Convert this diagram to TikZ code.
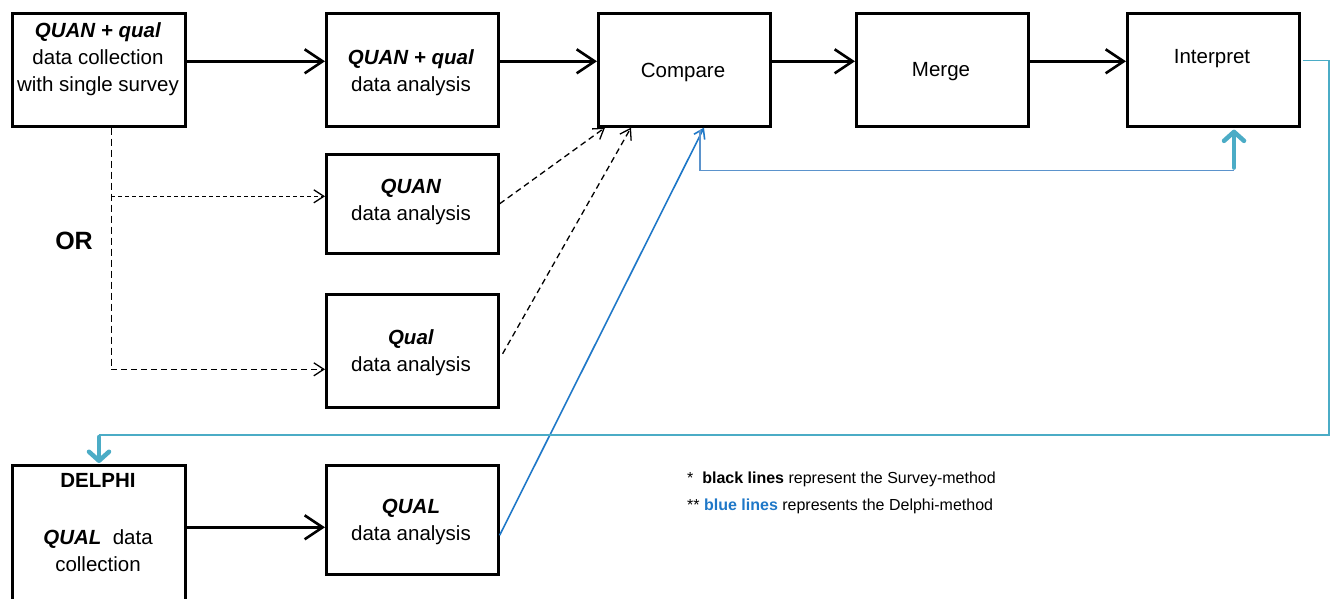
\documentclass[tikz,border=0pt]{standalone}
\usepackage{fontspec}
\setmainfont{Liberation Sans}
\usetikzlibrary{arrows.meta}
\definecolor{delphiblue}{HTML}{1F78C8}
\definecolor{loopblue}{HTML}{5B93CC}
\definecolor{accentteal}{HTML}{4BACC6}

\begin{document}
\begin{tikzpicture}[x=1pt,y=-1pt,
  box/.style={draw, line width=2.6pt, anchor=north west, inner sep=0pt, minimum width=172pt},
  lbl/.style={align=center, font=\fontsize{20.5}{27}\selectfont, inner sep=0pt},
  note/.style={anchor=west, font=\fontsize{16}{19}\selectfont, inner sep=0pt},
  flow/.style={line width=2.8pt, -{Straight Barb[length=18pt,width=24pt,line width=2.6pt]}},
  alt/.style={line width=1.3pt, dash pattern=on 6pt off 4pt, -{Straight Barb[length=10pt,width=13pt,line width=1.3pt]}},
  altline/.style={line width=1.3pt, dash pattern=on 7pt off 4pt},
  delphi/.style={delphiblue, line width=1.6pt, -{Straight Barb[length=9pt,width=12pt,line width=1.6pt]}},
  loopline/.style={loopblue, line width=1.3pt},
  tealline/.style={accentteal, line width=1.4pt},
  tealarrow/.style={accentteal, line width=4.5pt, line cap=round, -{Straight Barb[length=9pt,width=20pt,line width=4.5pt,round]}}]

\useasboundingbox[fill=white] (0,0) rectangle (1333,598);

% boxes
\node[box, minimum width=173pt, minimum height=113pt] (coll) at (11,12) {};
\node[box, minimum height=113pt] (mixan) at (325,12) {};
\node[box, minimum height=113pt] (cmp) at (597,12) {};
\node[box, minimum height=113pt] (mrg) at (855,12) {};
\node[box, minimum height=113pt] (intp) at (1126,12) {};
\node[box, minimum height=99pt] (quan) at (325,153) {};
\node[box, minimum height=113pt] (qual) at (325,293) {};
\node[box, minimum width=173pt, minimum height=170pt] (dlph) at (11,464) {};
\node[box, minimum height=109pt] (qualan) at (325,464) {};

% box texts
\node[lbl] (collT) at (98,59.5) {\textbf{\textit{QUAN + qual}}\\data collection\\with single survey};
\node[lbl] (mixanT) at (411,73) {\textbf{\textit{QUAN + qual}}\\data analysis};
\node[lbl] (cmpT) at (683,72) {Compare};
\node[lbl] (mrgT) at (941,72) {Merge};
\node[lbl] (intpT) at (1212,59) {Interpret};
\node[lbl] (quanT) at (411,202) {\textbf{\textit{QUAN}}\\data analysis};
\node[lbl] (qualT) at (411,353) {\textbf{\textit{Qual}}\\data analysis};
\node[lbl] (dlphT) at (98,522.5) {\textbf{DELPHI}\\[30pt]\textbf{\textit{QUAL}}\ \ data\\collection};
\node[lbl] (qualanT) at (411,522) {\textbf{\textit{QUAL}}\\data analysis};
\node[lbl, font=\fontsize{25}{29}\selectfont\bfseries] (or) at (74,241) {OR};

% legend
\node[note] (note1) at (687,479) {*\ \ \textbf{black lines} represent the Survey-method};
\node[note] (note2) at (687,506) {** \textcolor{delphiblue}{\textbf{blue lines}} represents the Delphi-method};

% survey main flow
\draw[flow] ([yshift=8.5pt]coll.east) -- ([yshift=8.5pt]mixan.west);
\draw[flow] ([yshift=8.5pt]mixan.east) -- ([yshift=8.5pt]cmp.west);
\draw[flow] ([yshift=8.5pt]cmp.east) -- ([yshift=8.5pt]mrg.west);
\draw[flow] ([yshift=8.5pt]mrg.east) -- ([yshift=8.5pt]intp.west);

% alternative split analysis
\coordinate (split) at ([xshift=12.5pt]coll.south);
\coordinate (quanin) at ([yshift=7.5pt]quan.west);
\coordinate (qualin) at ([yshift=-18.5pt]qual.west);
\draw[altline] (split) -- (split |- qualin);
\draw[alt] (split |- qualin) -- (qualin);
\draw[alt, dash pattern=on 4pt off 3pt] (split |- quanin) -- (quanin);
\draw[alt] (quan.east) -- ([xshift=8pt]cmp.south west);
\draw[alt] ([xshift=3pt,yshift=-3pt]qual.east) -- ([xshift=34pt]cmp.south west);

% delphi flow
\coordinate (qain) at ([yshift=-7.5pt]qualan.west);
\draw[flow] (dlph.east |- qain) -- (qain);
\draw[delphi] ([yshift=-15.5pt]qualan.east) -- ([xshift=107pt]cmp.south west);

% feedback loop compare -> interpret
\coordinate (cmpfoot) at ([xshift=103pt,yshift=-2pt]cmp.south west);
\coordinate (intfoot) at ([xshift=108pt]intp.south west);
\coordinate (loopbase) at ([yshift=-43pt]intfoot);
\draw[loopline] (cmpfoot) |- (loopbase);
\draw[tealarrow] ([yshift=3pt]loopbase) -- ([yshift=-2pt]intfoot);

% return loop interpret -> delphi
\coordinate (retR) at (1329,435);
\coordinate (dtop) at ([xshift=88pt]dlph.north west);
\coordinate (dturn) at (dtop |- retR);
\draw[tealline] ([xshift=2pt,yshift=9.5pt]intp.east) -| (retR) -- (dturn);
\draw[tealarrow] ([yshift=-2pt]dturn) -- ([yshift=1pt]dtop);
\end{tikzpicture}
\end{document}
